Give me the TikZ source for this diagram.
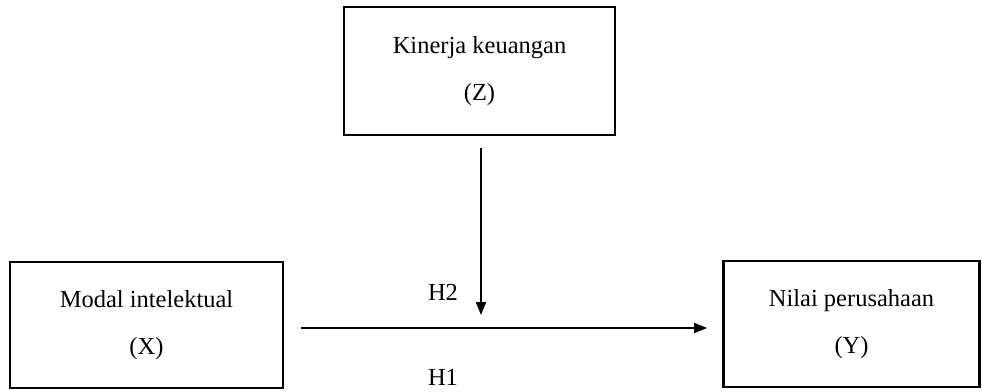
\documentclass[tikz,border=0pt]{standalone}
\usepackage{fontspec}
\setmainfont{Liberation Serif}
\usetikzlibrary{arrows.meta}
\begin{document}
\begin{tikzpicture}[x=1pt,y=-1pt,
  varbox/.style={draw, line width=2.8pt, rectangle, align=center,
    inner sep=0pt, font=\fontsize{24.5}{47}\selectfont},
  arr/.style={line width=1.7pt, -{Triangle[length=13pt,width=10pt]}},
  hyp/.style={font=\fontsize{24.5}{28}\selectfont, inner sep=0pt}]
  \useasboundingbox (0,0) rectangle (982,391);

  % variables
  \node[varbox, minimum width=271pt, minimum height=128pt] (z) at (479.5,71)
    {Kinerja keuangan\\(Z)};
  \node[varbox, minimum width=273pt, minimum height=126pt] (x) at (146.5,325)
    {Modal intelektual\\(X)};
  \node[varbox, minimum width=256pt, minimum height=126pt] (y) at (851.5,324)
    {Nilai perusahaan\\(Y)};

  % end points of the paths
  \coordinate (xy) at ([yshift=-3pt]x.east);
  \coordinate (zt) at (481,315);

  % H1: X -> Y, H2: Z moderating
  \draw[arr, shorten <=17pt, shorten >=15pt] (xy) -- (xy -| y.west);
  \draw[arr, shorten <=12pt] ([xshift=1.5pt]z.south) -- (zt);

  \node[hyp] (h2) at (443,292) {H2};
  \node[hyp] (h1) at (443,377) {H1};
\end{tikzpicture}
\end{document}
